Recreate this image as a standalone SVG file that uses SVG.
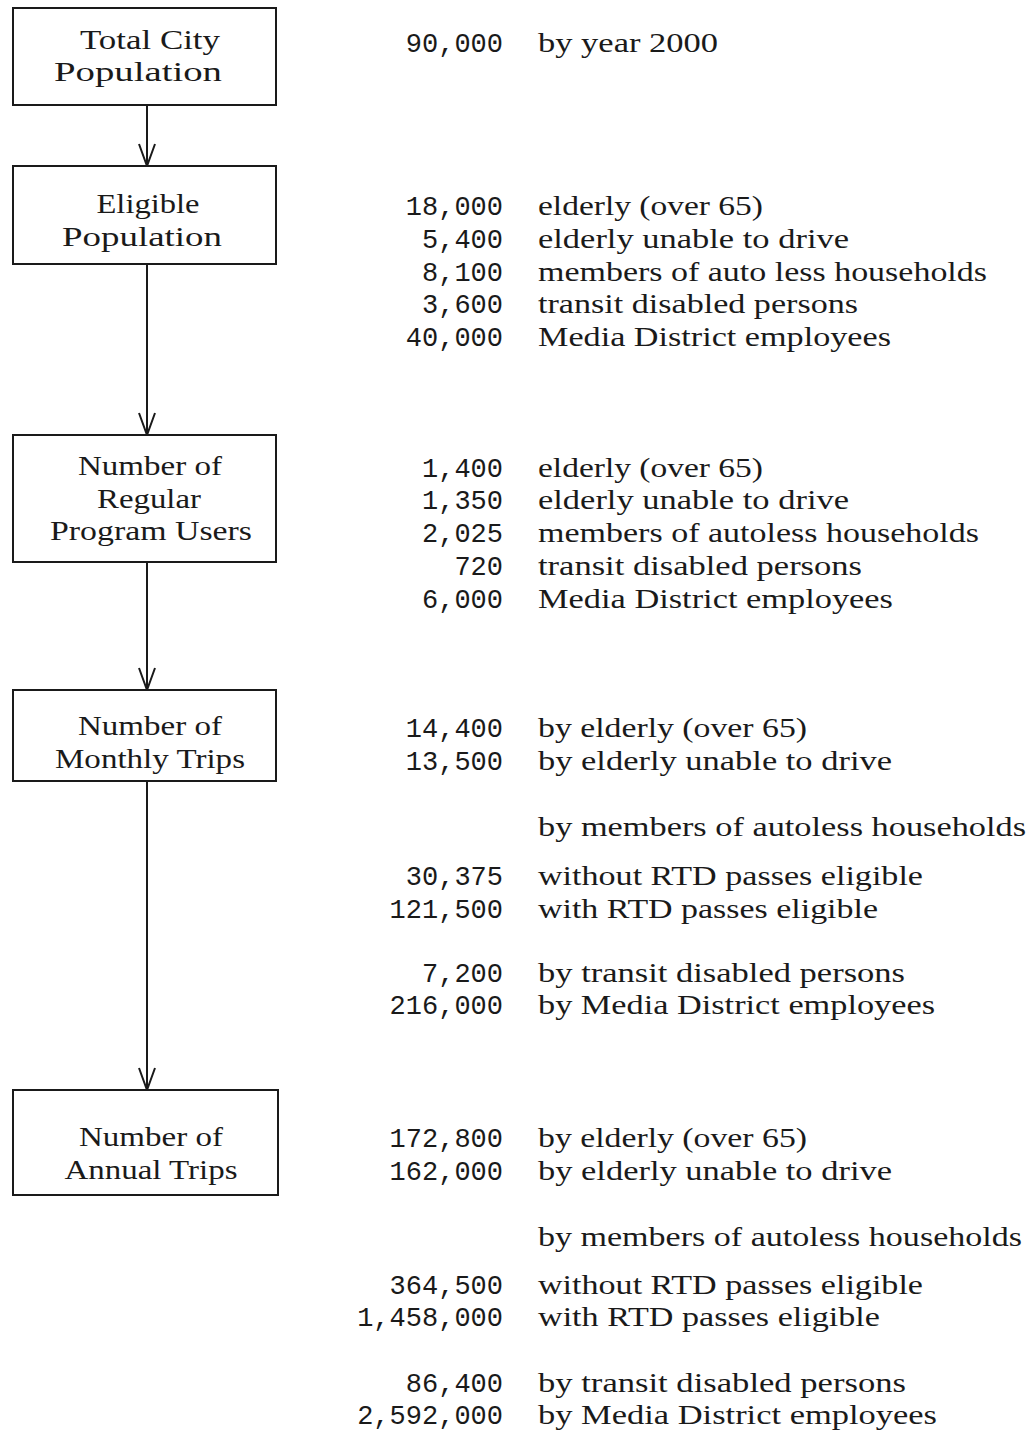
<svg xmlns="http://www.w3.org/2000/svg" width="1031" height="1430" viewBox="0 0 1031 1430">
<style>
.box{fill:#fff;stroke:#1a1a1a;stroke-width:2}
.bt{font-family:"Liberation Serif",serif;font-size:28px;fill:#1a1a1a;text-anchor:middle}
.num{font-family:"Liberation Mono",monospace;font-size:27px;fill:#1a1a1a;text-anchor:end}
.lab{font-family:"Liberation Serif",serif;font-size:28px;fill:#1a1a1a}
.conn{stroke:#1a1a1a;stroke-width:2;fill:none}
</style>
<defs>
<marker id="v" markerWidth="26" markerHeight="20" refX="24" refY="10" orient="auto" markerUnits="userSpaceOnUse" viewBox="0 0 26 20">
<path d="M2,2 L24,10 L2,18" fill="none" stroke="#1a1a1a" stroke-width="2"/>
</marker>
</defs>
<rect width="1031" height="1430" fill="#fff"/>
<g id="connectors">
<line class="conn" x1="147" y1="105" x2="147" y2="166" marker-end="url(#v)"/>
<line class="conn" x1="147" y1="264" x2="147" y2="435" marker-end="url(#v)"/>
<line class="conn" x1="147" y1="562" x2="147" y2="690" marker-end="url(#v)"/>
<line class="conn" x1="147" y1="781" x2="147" y2="1090" marker-end="url(#v)"/>
</g>
<g id="node-total">
<rect class="box" x="13" y="8" width="263" height="97"/>
<text class="bt" x="150" y="49" textLength="140" lengthAdjust="spacingAndGlyphs">Total City</text>
<text class="bt" x="138" y="81" textLength="168" lengthAdjust="spacingAndGlyphs">Population</text>
</g>
<g id="node-eligible">
<rect class="box" x="13" y="166" width="263" height="98"/>
<text class="bt" x="148" y="213" textLength="103" lengthAdjust="spacingAndGlyphs">Eligible</text>
<text class="bt" x="142" y="246" textLength="160" lengthAdjust="spacingAndGlyphs">Population</text>
</g>
<g id="node-users">
<rect class="box" x="13" y="435" width="263" height="127"/>
<text class="bt" x="150" y="475" textLength="144" lengthAdjust="spacingAndGlyphs">Number of</text>
<text class="bt" x="149" y="508" textLength="104" lengthAdjust="spacingAndGlyphs">Regular</text>
<text class="bt" x="151" y="540" textLength="202" lengthAdjust="spacingAndGlyphs">Program Users</text>
</g>
<g id="node-monthly">
<rect class="box" x="13" y="690" width="263" height="91"/>
<text class="bt" x="150" y="735" textLength="144" lengthAdjust="spacingAndGlyphs">Number of</text>
<text class="bt" x="150" y="768" textLength="190" lengthAdjust="spacingAndGlyphs">Monthly Trips</text>
</g>
<g id="node-annual">
<rect class="box" x="13" y="1090" width="265" height="105"/>
<text class="bt" x="151" y="1146" textLength="144" lengthAdjust="spacingAndGlyphs">Number of</text>
<text class="bt" x="151" y="1179" textLength="173" lengthAdjust="spacingAndGlyphs">Annual Trips</text>
</g>
<g id="values-total">
<text class="num" x="503" y="52">90,000</text>
<text class="lab" x="538" y="52" textLength="180" lengthAdjust="spacingAndGlyphs">by year 2000</text>
</g>
<g id="values-eligible">
<text class="num" x="503" y="215">18,000</text><text class="lab" x="538" y="215" textLength="225" lengthAdjust="spacingAndGlyphs">elderly (over 65)</text>
<text class="num" x="503" y="248">5,400</text><text class="lab" x="538" y="248" textLength="311" lengthAdjust="spacingAndGlyphs">elderly unable to drive</text>
<text class="num" x="503" y="281">8,100</text><text class="lab" x="538" y="281" textLength="449" lengthAdjust="spacingAndGlyphs">members of auto less households</text>
<text class="num" x="503" y="313">3,600</text><text class="lab" x="538" y="313" textLength="320" lengthAdjust="spacingAndGlyphs">transit disabled persons</text>
<text class="num" x="503" y="346">40,000</text><text class="lab" x="538" y="346" textLength="353" lengthAdjust="spacingAndGlyphs">Media District employees</text>
</g>
<g id="values-users">
<text class="num" x="503" y="477">1,400</text><text class="lab" x="538" y="477" textLength="225" lengthAdjust="spacingAndGlyphs">elderly (over 65)</text>
<text class="num" x="503" y="509">1,350</text><text class="lab" x="538" y="509" textLength="311" lengthAdjust="spacingAndGlyphs">elderly unable to drive</text>
<text class="num" x="503" y="542">2,025</text><text class="lab" x="538" y="542" textLength="441" lengthAdjust="spacingAndGlyphs">members of autoless households</text>
<text class="num" x="503" y="575">720</text><text class="lab" x="538" y="575" textLength="324" lengthAdjust="spacingAndGlyphs">transit disabled persons</text>
<text class="num" x="503" y="608">6,000</text><text class="lab" x="538" y="608" textLength="355" lengthAdjust="spacingAndGlyphs">Media District employees</text>
</g>
<g id="values-monthly">
<text class="num" x="503" y="737">14,400</text><text class="lab" x="538" y="737" textLength="269" lengthAdjust="spacingAndGlyphs">by elderly (over 65)</text>
<text class="num" x="503" y="770">13,500</text><text class="lab" x="538" y="770" textLength="354" lengthAdjust="spacingAndGlyphs">by elderly unable to drive</text>
<text class="lab" x="538" y="836" textLength="488" lengthAdjust="spacingAndGlyphs">by  members of autoless households</text>
<text class="num" x="503" y="885">30,375</text><text class="lab" x="538" y="885" textLength="385" lengthAdjust="spacingAndGlyphs">without RTD passes eligible</text>
<text class="num" x="503" y="918">121,500</text><text class="lab" x="538" y="918" textLength="340" lengthAdjust="spacingAndGlyphs">with RTD passes eligible</text>
<text class="num" x="503" y="982">7,200</text><text class="lab" x="538" y="982" textLength="367" lengthAdjust="spacingAndGlyphs">by transit disabled persons</text>
<text class="num" x="503" y="1014">216,000</text><text class="lab" x="538" y="1014" textLength="397" lengthAdjust="spacingAndGlyphs">by Media District employees</text>
</g>
<g id="values-annual">
<text class="num" x="503" y="1147">172,800</text><text class="lab" x="538" y="1147" textLength="269" lengthAdjust="spacingAndGlyphs">by elderly (over 65)</text>
<text class="num" x="503" y="1180">162,000</text><text class="lab" x="538" y="1180" textLength="354" lengthAdjust="spacingAndGlyphs">by elderly unable to drive</text>
<text class="lab" x="538" y="1246" textLength="484" lengthAdjust="spacingAndGlyphs">by members of autoless households</text>
<text class="num" x="503" y="1294">364,500</text><text class="lab" x="538" y="1294" textLength="385" lengthAdjust="spacingAndGlyphs">without RTD passes eligible</text>
<text class="num" x="503" y="1326">1,458,000</text><text class="lab" x="538" y="1326" textLength="342" lengthAdjust="spacingAndGlyphs">with RTD passes eligible</text>
<text class="num" x="503" y="1392">86,400</text><text class="lab" x="538" y="1392" textLength="368" lengthAdjust="spacingAndGlyphs">by transit disabled persons</text>
<text class="num" x="503" y="1424">2,592,000</text><text class="lab" x="538" y="1424" textLength="399" lengthAdjust="spacingAndGlyphs">by Media District employees</text>
</g>
</svg>
